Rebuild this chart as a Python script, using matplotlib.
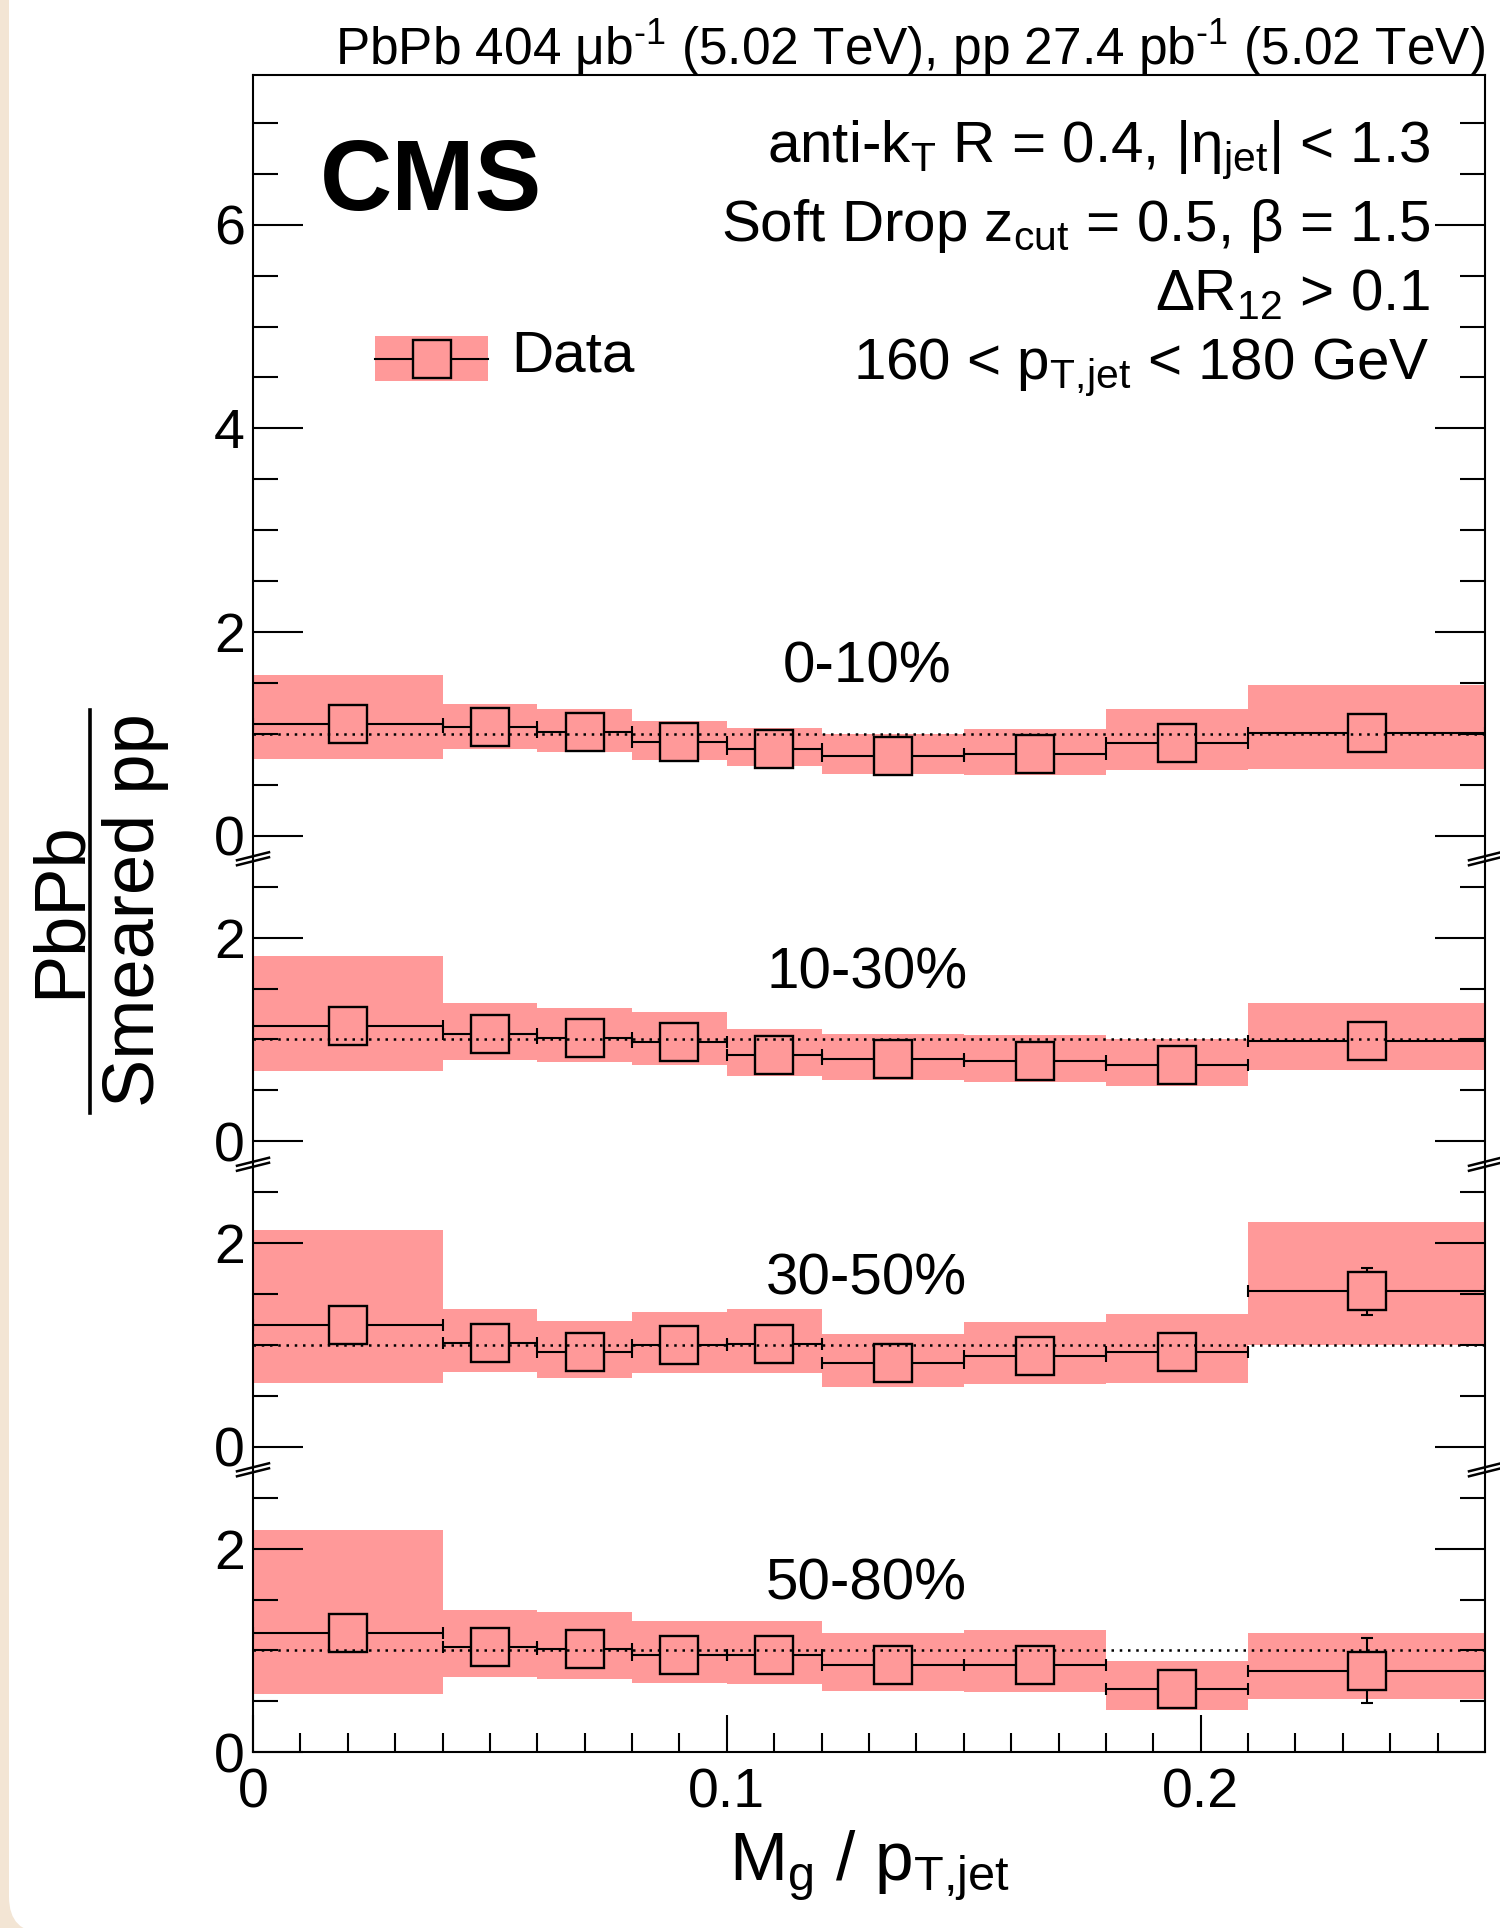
import numpy as np
import matplotlib
matplotlib.use("Agg")
import matplotlib.pyplot as plt
from matplotlib import transforms
from matplotlib.patches import Rectangle, FancyBboxPatch
from matplotlib.lines import Line2D

plt.rcParams['font.family'] = ['Liberation Sans', 'DejaVu Sans']
plt.rcParams['mathtext.fontset'] = 'custom'
plt.rcParams['mathtext.rm'] = 'Liberation Sans'
plt.rcParams['mathtext.it'] = 'Liberation Sans'
plt.rcParams['mathtext.bf'] = 'Liberation Sans:bold'
plt.rcParams['mathtext.default'] = 'regular'

# ---------------- data ----------------
bin_edges = [0.0, 0.04, 0.06, 0.08, 0.10, 0.12, 0.15, 0.18, 0.21, 0.26]
centrality = ['0-10%', '10-30%', '30-50%', '50-80%']

ratio_0_10 = [1.095, 1.064, 1.023, 0.922, 0.856, 0.781, 0.799, 0.910, 1.005]
sys_hi_0_10 = [1.582, 1.294, 1.245, 1.131, 1.062, 1.000, 1.046, 1.248, 1.477]
sys_lo_0_10 = [0.758, 0.856, 0.827, 0.739, 0.680, 0.605, 0.595, 0.641, 0.654]
stat_0_10 = [0.06, 0.03, 0.03, 0.03, 0.03, 0.03, 0.04, 0.06, 0.10]

ratio_10_30 = [1.132, 1.051, 1.018, 0.979, 0.848, 0.804, 0.788, 0.748, 0.987]
sys_hi_10_30 = [1.817, 1.353, 1.310, 1.265, 1.101, 1.049, 1.042, 1.005, 1.356]
sys_lo_10_30 = [0.690, 0.794, 0.775, 0.745, 0.641, 0.601, 0.582, 0.542, 0.696]
stat_10_30 = [0.06, 0.04, 0.04, 0.04, 0.04, 0.04, 0.05, 0.07, 0.12]

ratio_30_50 = [1.191, 1.018, 0.926, 0.995, 1.011, 0.822, 0.887, 0.926, 1.526]
sys_hi_30_50 = [2.131, 1.356, 1.239, 1.324, 1.356, 1.111, 1.229, 1.307, 2.203]
sys_lo_30_50 = [0.631, 0.739, 0.673, 0.722, 0.729, 0.585, 0.618, 0.627, 1.003]
stat_30_50 = [0.08, 0.05, 0.05, 0.05, 0.05, 0.06, 0.07, 0.10, 0.23]

ratio_50_80 = [1.172, 1.034, 1.015, 0.953, 0.953, 0.858, 0.861, 0.626, 0.802]
sys_hi_50_80 = [2.186, 1.402, 1.373, 1.291, 1.294, 1.173, 1.196, 0.892, 1.173]
sys_lo_50_80 = [0.575, 0.739, 0.722, 0.680, 0.673, 0.605, 0.595, 0.418, 0.523]
stat_50_80 = [0.10, 0.06, 0.06, 0.06, 0.07, 0.08, 0.10, 0.12, 0.32]

unity = 1.0

panels = [
    (centrality[0], ratio_0_10, sys_lo_0_10, sys_hi_0_10, stat_0_10, 9.0),
    (centrality[1], ratio_10_30, sys_lo_10_30, sys_hi_10_30, stat_10_30, 6.0),
    (centrality[2], ratio_30_50, sys_lo_30_50, sys_hi_30_50, stat_30_50, 3.0),
    (centrality[3], ratio_50_80, sys_lo_50_80, sys_hi_50_80, stat_50_80, 0.0),
]

# ---------------- figure ----------------
W, H, DPI = 1500, 1928, 100
fig = plt.figure(figsize=(W / DPI, H / DPI), dpi=DPI)
fig.patch.set_facecolor('#f3e5d4')
bg = FancyBboxPatch((0.09, -0.05), 20, 30,
                    boxstyle='round,pad=0,rounding_size=0.36',
                    transform=fig.dpi_scale_trans, fc='white', ec='none', zorder=-10)
fig.add_artist(bg)

ax_l, ax_r, ax_t, ax_b = 253, 1485, 75, 1752.3
ax = fig.add_axes([ax_l / W, 1 - ax_b / H, (ax_r - ax_l) / W, (ax_b - ax_t) / H])
ax.set_facecolor('white')
ax.set_xlim(0, 0.26)
ax.set_ylim(0, 16.47)

band_color = '#ff9999'
edges = np.array(bin_edges)
centers = 0.5 * (edges[:-1] + edges[1:])
widths = np.diff(edges)
LW = 1.5

for label, val, lo, hi, st, off in panels:
    val = np.array(val); lo = np.array(lo); hi = np.array(hi)
    ax.bar(edges[:-1], hi - lo, width=widths, bottom=lo + off, align='edge',
           color=band_color, linewidth=0, zorder=1)
    ax.errorbar(centers, val + off, xerr=widths / 2, yerr=st, fmt='none',
                ecolor='k', elinewidth=LW, capsize=4, capthick=LW, zorder=3)
    ax.plot(centers, val + off, 's', ms=27.5, mfc=band_color, mec='k', mew=1.7,
            zorder=4, clip_on=False)
    ax.axhline(off + unity, color='k', lw=1.8, ls=(0, (1, 2.3)), zorder=5)
    ax.text(0.1295, off + 1.5, label, ha='center', va='baseline', fontsize=42, zorder=6)

# ticks
major_y = [0, 2, 3, 5, 6, 8, 9, 11, 13, 15]
major_y_labels = ['0', '2', '0', '2', '0', '2', '0', '2', '4', '6']
ax.set_yticks(major_y)
ax.set_yticklabels(major_y_labels)
minor_y = [v for v in np.arange(0, 16.5, 0.5) if v not in major_y]
ax.set_yticks(minor_y, minor=True)
ax.set_xticks([0, 0.1, 0.2])
ax.set_xticklabels(['0', '0.1', '0.2'])
ax.set_xticks(np.arange(0.01, 0.26, 0.01), minor=True)

ax.tick_params(axis='y', which='major', direction='in', length=36, width=LW,
               left=True, right=True, labelsize=40, pad=6)
ax.tick_params(axis='y', which='minor', direction='in', length=18, width=LW,
               left=True, right=True)
ax.tick_params(axis='x', which='major', direction='in', length=27, width=LW,
               top=False, bottom=True, labelsize=40, pad=11)
ax.tick_params(axis='x', which='minor', direction='in', length=13.5, width=LW,
               top=False, bottom=True)
for s in ax.spines.values():
    s.set_linewidth(LW)
    s.set_zorder(7)

# axis break marks
ident = transforms.IdentityTransform()
for b in (3, 6, 9):
    for xa in (0.0, 0.26):
        xd, yd = ax.transData.transform((xa, b))
        yc = yd - 23
        for sft in (-2.5, 2.5):
            fig.add_artist(Line2D([xd - 16, xd + 16], [yc + sft - 4, yc + sft + 4],
                                  transform=ident, color='k', lw=1.8))

# pixel transform helper (top-left origin)
pxT = transforms.Affine2D().scale(1 / W, -1 / H).translate(0, 1) + fig.transFigure

def ftext(x, y, s, **kw):
    fig.text(x / W, 1 - y / H, s, **kw)

# titles and labels
ftext(1485, 65, r'PbPb 404 μb$^{\text{-1}}$ (5.02 TeV), pp 27.4 pb$^{\text{-1}}$ (5.02 TeV)',
      ha='right', va='baseline', fontsize=37)
ftext(320, 210, 'CMS', ha='left', va='baseline', fontsize=72, fontweight='bold')
ftext(1430, 162, r'anti-k$_{T}$ R = 0.4, |η$_{jet}$| < 1.3', ha='right', va='baseline', fontsize=42)
ftext(1430, 241, r'Soft Drop z$_{cut}$ = 0.5, β = 1.5', ha='right', va='baseline', fontsize=42)
ftext(1430, 310, r'ΔR$_{12}$ > 0.1', ha='right', va='baseline', fontsize=42)
ftext(1430, 379, r'160 < p$_{\text{T,jet}}$ < 180 GeV', ha='right', va='baseline', fontsize=42)

# legend
fig.add_artist(Rectangle((375, 381), 113, -45, transform=pxT, fc=band_color, ec='none'))
fig.add_artist(Line2D([375, 488], [358.5, 358.5], transform=pxT, color='k', lw=LW))
fig.add_artist(Line2D([432], [358.5], transform=pxT, marker='s', ms=27.5,
                      mfc=band_color, mec='k', mew=1.7, ls='none'))
ftext(511, 372, 'Data', ha='left', va='baseline', fontsize=42)

# x label
ftext(869, 1880, r'M$_{g}$ / p$_{\text{T,jet}}$', ha='center', va='baseline', fontsize=50)

# y label (fraction)
fig.text(80 / W, 1 - 910 / H, 'PbPb', rotation=90, rotation_mode='anchor',
         ha='center', va='baseline', fontsize=52)
fig.text(154 / W, 1 - 910 / H, 'Smeared pp', rotation=90, rotation_mode='anchor',
         ha='center', va='baseline', fontsize=52)
fig.add_artist(Line2D([90, 90], [710, 1113], transform=pxT, color='k', lw=2.6))

fig.savefig('out.png', dpi=DPI, facecolor=fig.get_facecolor())
